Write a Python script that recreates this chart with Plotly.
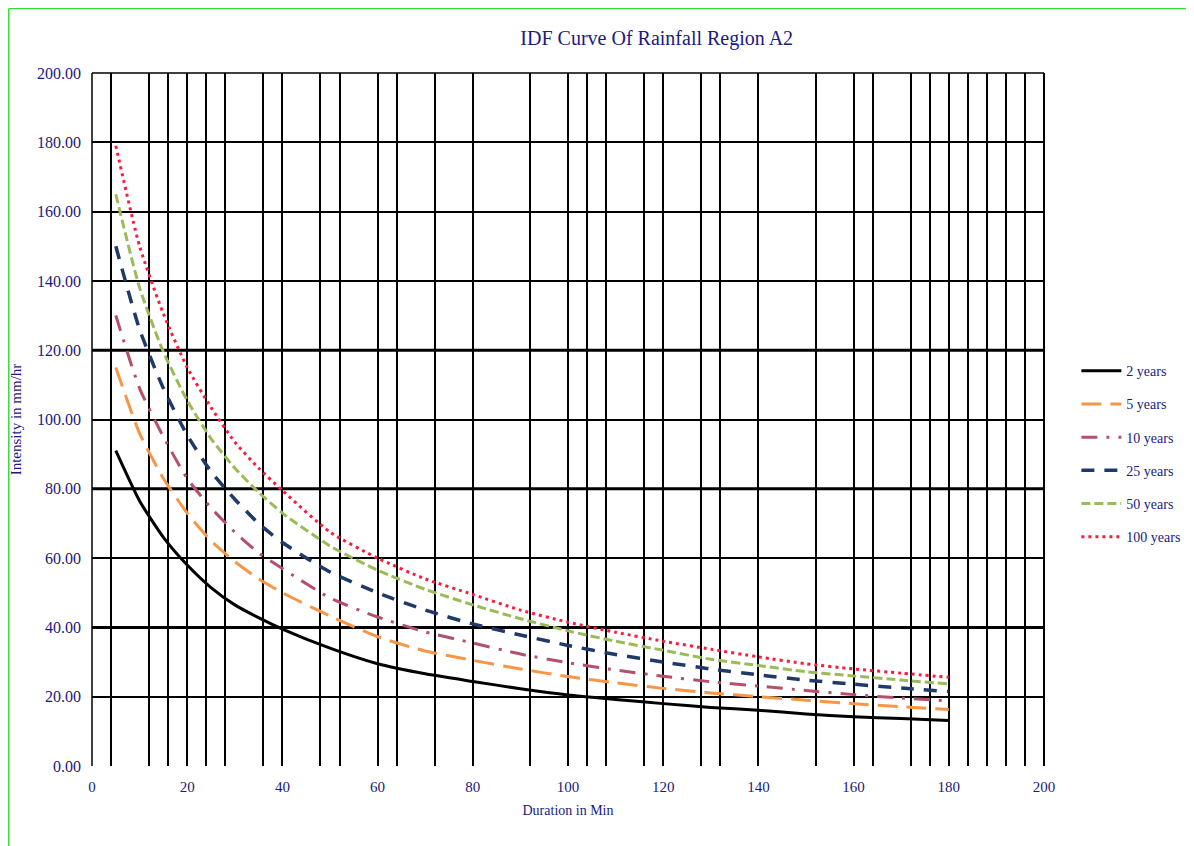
import plotly.graph_objects as go

durations = [5, 10, 15, 20, 25, 30, 35, 40, 50, 60, 70, 80, 90, 100, 110, 120, 130, 140, 150, 160, 170, 180]

i_2yr = [91, 76.5, 66, 58, 51.5, 46.5, 42.8, 39.5, 34, 29.5, 26.6, 24.4, 22.3, 20.5, 19.2, 18, 16.9, 16.1, 15, 14.2, 13.7, 13.1]
i_5yr = [115, 96, 83, 73, 65, 59, 54, 50, 43.3, 37.3, 33.2, 30.5, 28, 25.8, 24, 22.4, 21.1, 20, 19, 18, 17.1, 16.3]
i_10yr = [130, 109, 95, 83, 74.5, 67.5, 61.5, 57, 48.5, 43, 38.7, 35.5, 32.3, 29.8, 27.7, 25.9, 24.3, 23.1, 21.8, 20.6, 19.6, 18.8]
i_25yr = [150, 126, 109, 95.5, 85, 77, 70, 64.5, 56, 50, 45, 41, 37.8, 34.8, 32.2, 30, 28, 26.3, 24.8, 23.6, 22.5, 21.5]
i_50yr = [165, 138, 119.5, 105.5, 94.5, 86, 79, 73, 63.5, 56.5, 51, 46.5, 42.5, 39, 36, 33.4, 30.8, 29, 27.2, 26, 24.8, 23.7]
i_100yr = [179, 150, 130.5, 115, 103.5, 93.5, 86, 79.5, 67.5, 60, 54, 49.5, 45, 41.5, 38.6, 36, 33.7, 31.5, 29.5, 28, 26.8, 25.6]

series_names = ["2 years", "5 years", "10 years", "25 years", "50 years", "100 years"]
series_values = [i_2yr, i_5yr, i_10yr, i_25yr, i_50yr, i_100yr]
series_colors = ["#000000", "#F79646", "#B5506A", "#1F3A68", "#9BBB59", "#FF1A3C"]
series_dash = ["solid", "20px,9px", "16px,9px,3px,9px", "13px,10px", "9px,4px", "3px,4px"]
series_width = [3, 3, 3, 3.5, 3, 3]

x_ticks = [0, 20, 40, 60, 80, 100, 120, 140, 160, 180, 200]
y_ticks = [0, 20, 40, 60, 80, 100, 120, 140, 160, 180, 200]
x_grid = [4, 12, 16, 24, 28, 36, 48, 52, 64, 72, 92, 104, 108, 116, 128, 132, 152, 164, 172, 176, 184, 188, 192, 196]
y_thick = [40, 80, 120]

navy = "#1a1a80"
font_family = "Liberation Serif, Times New Roman, serif"

fig = go.Figure()
for name, vals, col, dash, w in zip(series_names, series_values, series_colors, series_dash, series_width):
    fig.add_trace(go.Scatter(
        x=durations, y=vals, mode="lines", name=name, legendgroup=name,
        line=dict(color=col, dash=dash, width=w, shape="spline", smoothing=0.6),
    ))

for yv in y_thick:
    fig.add_shape(type="line", xref="paper", yref="y", x0=0, x1=1, y0=yv, y1=yv,
                  line=dict(color="black", width=3), layer="below")

# plot frame: top, left and right edges
fig.add_shape(type="line", xref="paper", yref="paper", x0=0, x1=1, y0=1, y1=1,
              line=dict(color="black", width=1.5), layer="below")
fig.add_shape(type="line", xref="paper", yref="paper", x0=0, x1=0, y0=0, y1=1,
              line=dict(color="black", width=1.5), layer="below")
fig.add_shape(type="line", xref="paper", yref="paper", x0=1, x1=1, y0=0, y1=1,
              line=dict(color="black", width=2), layer="below")

# faint green frame at left and top edges of the image
fig.add_shape(type="line", xref="paper", yref="paper", x0=-0.0874, x1=-0.0874, y0=-0.13, y1=1.093,
              line=dict(color="#33dd33", width=1.5))
fig.add_shape(type="line", xref="paper", yref="paper", x0=-0.0874, x1=1.16, y0=1.093, y1=1.093,
              line=dict(color="#33dd33", width=1.5))

fig.update_layout(
    width=1186, height=838,
    margin=dict(l=84, r=150, t=65, b=80, autoexpand=False),
    paper_bgcolor="white", plot_bgcolor="white",
    font=dict(family=font_family, color=navy, size=15),
    title=dict(text="IDF Curve Of Rainfall Region A2", x=0.547, xanchor="center", y=0.964, yanchor="middle",
               font=dict(size=20, color=navy, family=font_family)),
    legend=dict(x=1.034, y=0.45, xanchor="left", yanchor="middle", bgcolor="rgba(0,0,0,0)",
                font=dict(size=14, color=navy, family=font_family), tracegroupgap=12, itemwidth=40),
    xaxis=dict(range=[0, 200], tickvals=x_ticks, ticktext=[str(v) for v in x_ticks], automargin=False,
               showgrid=True, gridcolor="black", gridwidth=1.5, zeroline=False, showline=False,
               ticks="", ticklabelstandoff=10, tickfont=dict(size=15, color=navy, family=font_family),
               title=dict(text="Duration in Min", font=dict(size=14, color=navy, family=font_family), standoff=11),
               minor=dict(tickmode="array", tickvals=x_grid, showgrid=True, gridcolor="black", gridwidth=1.5, ticks="")),
    yaxis=dict(range=[0, 200], tickvals=y_ticks, tickformat=".2f", automargin=False,
               showgrid=True, gridcolor="black", gridwidth=1.5, zeroline=False, showline=False,
               ticks="", ticklabelstandoff=10, tickfont=dict(size=16, color=navy, family=font_family),
               title=dict(text="Intensity in mm/hr", font=dict(size=15, color=navy, family=font_family), standoff=17)),
)

fig.write_html("out.html")
